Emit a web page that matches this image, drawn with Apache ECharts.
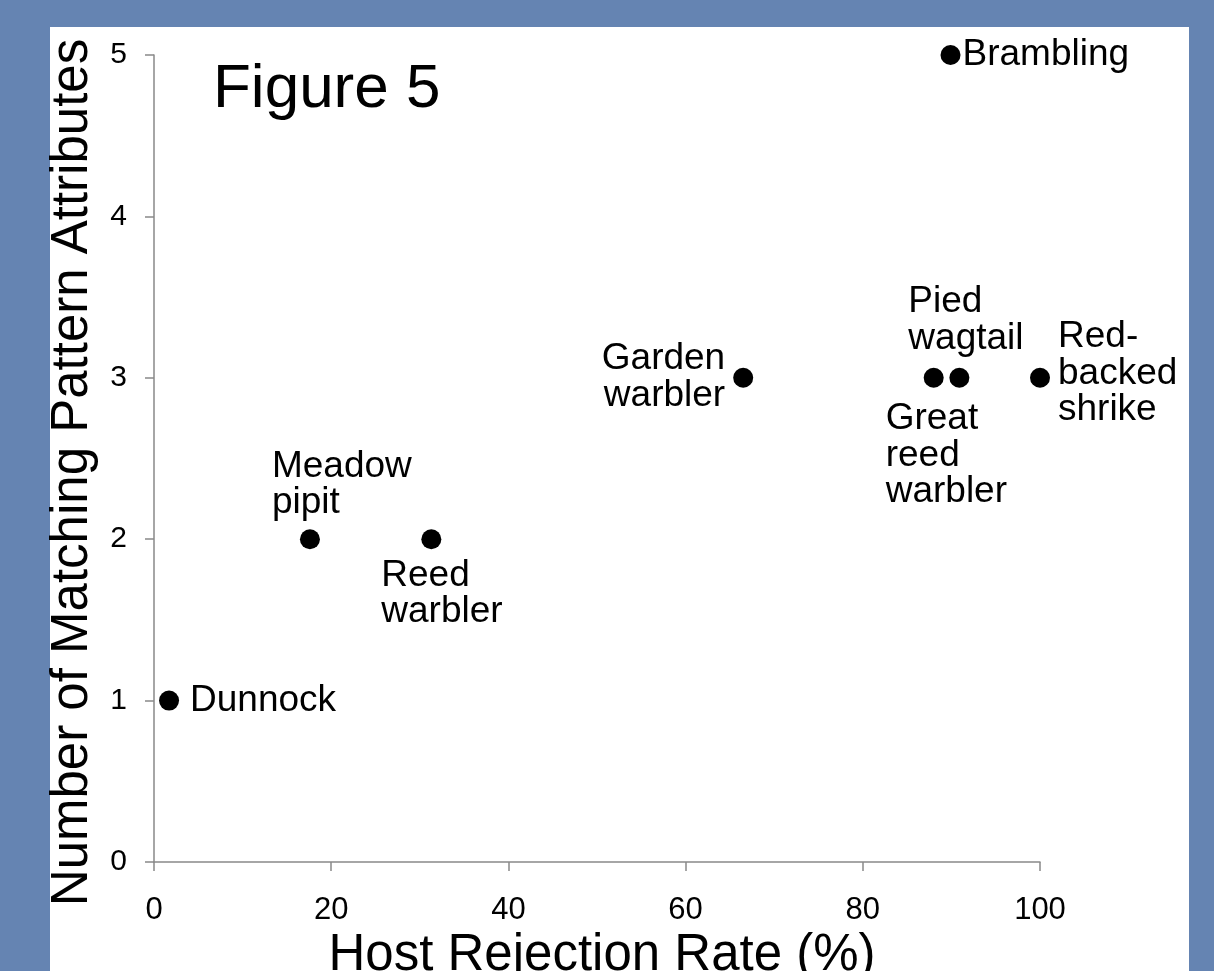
<!DOCTYPE html>
<html>
<head>
<meta charset="utf-8">
<script src="https://cdn.jsdelivr.net/npm/echarts@6/dist/echarts.min.js"></script>
<style>
  html, body { margin: 0; padding: 0; background: #6584b2; }
  #chart { width: 1214px; height: 971px; }
</style>
</head>
<body>
<div id="chart"></div>
<script>
// species, host rejection rate (%), matching pattern attributes
var species = ['Dunnock', 'Meadow\npipit', 'Reed\nwarbler', 'Garden\nwarbler',
  'Great\nreed\nwarbler', 'Pied\nwagtail', 'Red-\nbacked\nshrike', 'Brambling'];
var rejection = [1.7, 17.6, 31.3, 66.5, 88.0, 90.9, 100, 89.9];
var attributes = [1, 2, 2, 3, 3, 3, 3, 5];
var xTicks = [0, 20, 40, 60, 80, 100];
var yTicks = [0, 1, 2, 3, 4, 5];

// where each label sits relative to its dot
var labelPlace = {
  'Dunnock': { align: 'left', offset: [21, -18] },
  'Meadow\npipit': { align: 'left', offset: [-38, -91] },
  'Reed\nwarbler': { align: 'left', offset: [-50, 18] },
  'Garden\nwarbler': { align: 'right', offset: [-18, -37] },
  'Great\nreed\nwarbler': { align: 'left', offset: [-48, 23] },
  'Pied\nwagtail': { align: 'left', offset: [-51, -94] },
  'Red-\nbacked\nshrike': { align: 'left', offset: [18, -59] },
  'Brambling': { align: 'left', offset: [12, -18] }
};

var points = [];
for (var i = 0; i < species.length; i++) {
  var p = labelPlace[species[i]];
  points.push({
    name: species[i],
    value: [rejection[i], attributes[i]],
    label: {
      show: true,
      position: 'inside',
      align: p.align,
      verticalAlign: 'top',
      offset: p.offset,
      formatter: '{b}'
    }
  });
}

var myChart = echarts.init(document.getElementById('chart'));

var axisGray = '#898989';
var option = {
  backgroundColor: '#6584b2',
  animation: false,
  textStyle: { fontFamily: 'Liberation Sans, Arial, sans-serif' },
  graphic: [
    {
      type: 'rect', z: -10, silent: true,
      shape: { x: 50, y: 27, width: 1139, height: 960 },
      style: { fill: '#ffffff' }
    },
    {
      type: 'text', z: 10,
      style: {
        text: 'Figure 5', x: 213, y: 90,
        font: '62px "Liberation Sans", Arial, sans-serif',
        fill: '#000', verticalAlign: 'middle'
      }
    }
  ],
  grid: { left: 154, right: 174, top: 55, bottom: 109, containLabel: false, outerBoundsMode: 'none' },
  xAxis: {
    type: 'value', min: 0, max: 100, interval: 20,
    name: 'Host Rejection Rate (%)',
    nameLocation: 'middle', nameGap: 67,
    nameTextStyle: { fontSize: 51, color: '#000', padding: [0, 0, 0, 10] },
    splitLine: { show: false },
    axisLine: { show: true, lineStyle: { color: axisGray, width: 1.5 } },
    axisTick: { show: true, length: 9, lineStyle: { color: axisGray, width: 1.5 } },
    axisLabel: {
      fontSize: 31, color: '#000', margin: 33,
      formatter: function (v) { return xTicks.indexOf(v) >= 0 ? String(v) : ''; }
    }
  },
  yAxis: {
    type: 'value', min: 0, max: 5, interval: 1,
    name: 'Number of Matching Pattern Attributes',
    nameLocation: 'middle', nameGap: 56, nameRotate: 90,
    nameTextStyle: { fontSize: 51, color: '#000', padding: [0, 28, 0, 0] },
    splitLine: { show: false },
    axisLine: { show: true, lineStyle: { color: axisGray, width: 1.5 } },
    axisTick: { show: true, length: 9, lineStyle: { color: axisGray, width: 1.5 } },
    axisLabel: {
      fontSize: 30, color: '#000', margin: 27,
      formatter: function (v) { return yTicks.indexOf(v) >= 0 ? String(v) : ''; }
    }
  },
  series: [{
    type: 'scatter',
    symbol: 'circle',
    symbolSize: 20,
    itemStyle: { color: '#000', opacity: 1 },
    label: { color: '#000', fontSize: 37, lineHeight: 36.5 },
    emphasis: { disabled: true },
    data: points
  }]
};
myChart.setOption(option);
</script>
</body>
</html>
